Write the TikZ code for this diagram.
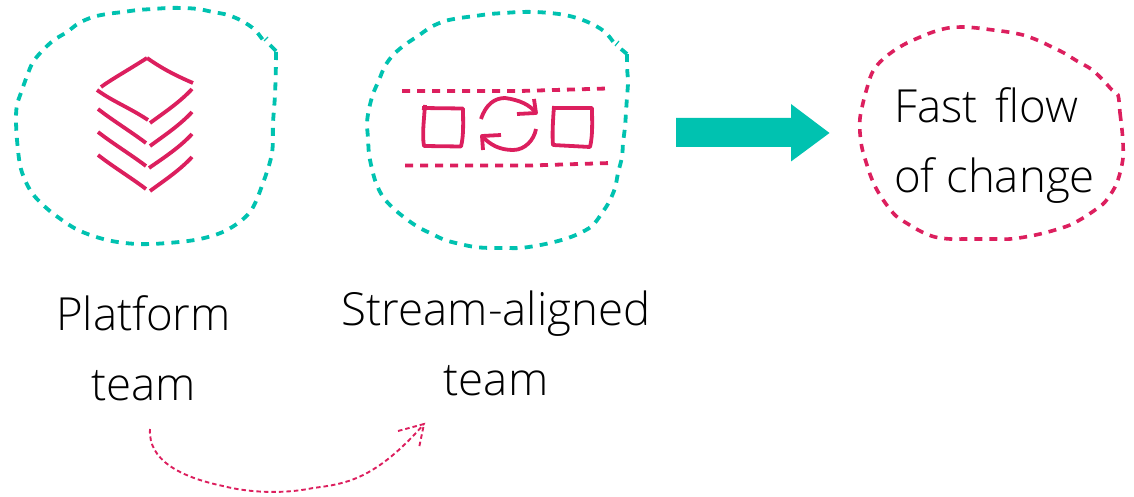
\documentclass[tikz,border=0pt]{standalone}
\usepackage{fontspec}
\setmainfont{Open Sans Light}
\definecolor{teal1}{HTML}{00C2B0}
\definecolor{pink1}{HTML}{DC1F5E}
\tikzset{
  blobteal/.style={draw=teal1,line width=3.8pt,dash pattern=on 8pt off 7.2pt},
  blobpink/.style={draw=pink1,line width=3.6pt,dash pattern=on 8pt off 7pt},
  ink/.style={draw=pink1,line width=3.8pt,line join=round},
  pinkdash/.style={draw=pink1,line width=3.8pt,dash pattern=on 8pt off 7pt},
  thin dash/.style={draw=pink1,line width=1.9pt,dash pattern=on 4.5pt off 3pt},
  label/.style={font=\fontsize{45.6}{50}\selectfont,text=black,inner sep=0pt,anchor=base},
}
\begin{document}
\begin{tikzpicture}[x=1pt,y=-1pt]
\useasboundingbox (0,0) rectangle (1134,497);
% team outlines
\draw[blobteal] plot[smooth,tension=0.55] coordinates {(276,52) (276,62) (275,95) (273,123) (272,153) (263,183) (250,212) (227,230) (200,239) (168,243) (137,244) (107,240) (78,230) (55,215) (42,204) (32,193) (25,180) (20,165) (17,140) (16,120) (17,105) (22,90) (27,76) (33,62) (43,50) (54,40) (67,32) (79,23) (93,17) (107,14) (123,12) (138,10) (153,9) (168,8) (183,8) (198,9) (213,12) (228,15) (242,21) (255,30) (265,43)};
\draw[teal1,line width=3.8pt] (270,45) -- (276,51);
\draw[teal1,line width=1.2pt] (264,41) -- (268,37);
\draw[blobteal] plot[smooth,tension=0.55] coordinates {(627,54) (627,67) (628,82) (627,97) (626,112) (625,127) (623,143) (622,157) (618,173) (615,188) (609,202) (602,213) (592,226) (578,234) (565,239) (550,243) (535,246) (520,248) (505,248) (490,248) (475,247) (460,244) (445,240) (432,234) (418,227) (405,218) (393,208) (383,197) (376,183) (372,169) (369,154) (368,138) (367,123) (369,109) (373,94) (379,80) (385,66) (394,54) (406,44) (418,36) (431,27) (445,21) (460,18) (475,16) (490,14) (504,13) (520,12) (535,12) (550,13) (565,15) (580,19) (594,25) (606,33) (617,47)};
\draw[teal1,line width=3.8pt] (621,49) -- (627,54);
\draw[teal1,line width=1.2pt] (615,46) -- (619,41);
\draw[blobpink] plot[smooth cycle,tension=0.55] coordinates {(1118,95) (1120,113) (1122,130) (1123,143) (1123,158) (1120,173) (1115,187) (1105,202) (1095,210) (1083,218) (1070,225) (1055,230) (1040,234) (1025,237) (1010,239) (995,239) (980,239) (965,239) (950,239) (935,237) (922,232) (908,224) (896,216) (886,204) (877,190) (871,177) (866,162) (862,148) (860,133) (860,118) (863,103) (867,88) (872,73) (880,62) (892,52) (905,44) (918,38) (933,32) (948,28) (963,27) (977,28) (993,30) (1008,32) (1023,35) (1037,40) (1052,47) (1064,53) (1077,61) (1091,69) (1102,79) (1112,90)};
% stack icon
\draw[ink] (101,87) .. controls (112,79) and (125,72) .. (147,58);
\draw[ink] (147,58) .. controls (160,67) and (172,74) .. (193,83);
\draw[ink] (97,90) .. controls (112,101) and (130,108) .. (148,120);
\draw[ink] (150,123) .. controls (165,112) and (180,102) .. (192,89);
\draw[ink] (98,109) .. controls (112,120) and (130,131) .. (146,143);
\draw[ink] (150,146) .. controls (165,135) and (180,125) .. (192,112);
\draw[ink] (98,132) .. controls (112,143) and (130,154) .. (146,166);
\draw[ink] (149,168) .. controls (165,157) and (180,147) .. (192,134);
\draw[ink] (98,155) .. controls (112,166) and (130,177) .. (146,189);
\draw[ink] (150,191) .. controls (165,180) and (180,170) .. (192,157);
% stream icon
\draw[pinkdash] (402,91) -- (520,91) -- (607,88.5);
\draw[pinkdash] (405,165.5) -- (530,165.5) -- (611,163);
\draw[ink] (422,108) -- (463,108.5) .. controls (463,120) and (464,135) .. (461,146.5) -- (424,146) .. controls (422,135) and (424,120) .. (425,105);
\draw[ink] (552,108) -- (592,108) .. controls (592,120) and (593,135) .. (590,147) -- (553,145) .. controls (552,135) and (553,120) .. (554,106);
\draw[ink] (481,119) .. controls (486,104) and (495,98) .. (505,98) .. controls (520,100) and (530,105) .. (536,113);
\draw[ink] (534,99) -- (536,113) -- (517,114);
\draw[ink] (536,129) .. controls (534,140) and (525,150) .. (513,150) .. controls (500,150) and (490,145) .. (482,136);
\draw[ink] (501,135) -- (482,136) -- (483,150);
% big arrow
\fill[teal1] (676,118) -- (791,118) -- (791,104) -- (829.5,133) -- (791,161.5) -- (791,147) -- (676,147) -- cycle;
% labels
\node[label] (platform) at (143.5,330) {Platform};
\node[label] (platteam) at (143.5,400) {team};
\node[label] (stream) at (496,325) {Stream-aligned};
\node[label] (strteam) at (496,395) {team};
\node[label,anchor=base west] (fast) at (894,123) {Fast\hspace{6pt} flow};
\node[label,anchor=base west] (change) at (894,193) {of change};
% thin arrow
\coordinate (from) at (150,429);
\coordinate (to) at (424,424);
\draw[thin dash] (from) .. controls (148,460) and (180,477) .. (223,486) .. controls (250,493) and (285,494) .. (313,488) .. controls (345,484) and (375,480) .. (to);
\draw[thin dash] (398,431) -- (to) -- (419,448);
\end{tikzpicture}
\end{document}
